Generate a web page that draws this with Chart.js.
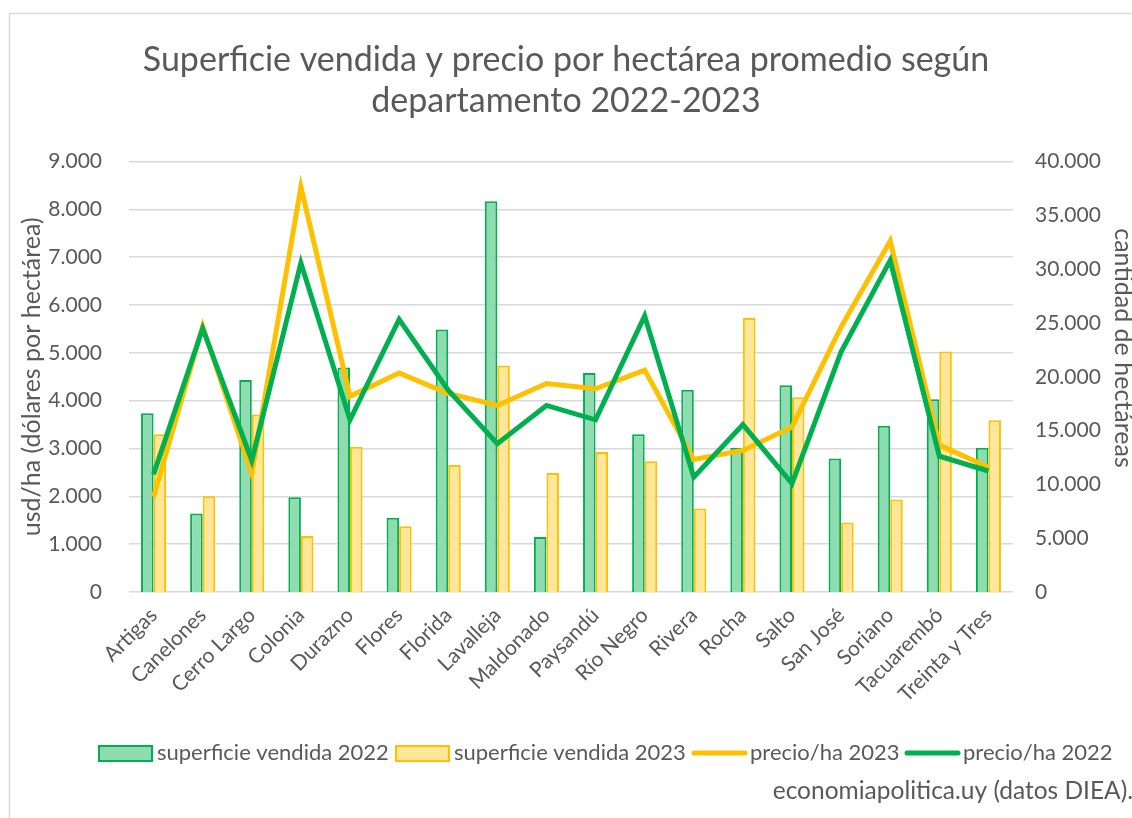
<!DOCTYPE html>
<html>
<head>
<meta charset="utf-8">
<script src="https://cdn.jsdelivr.net/npm/chart.js@4"></script>
<style>
  html, body { margin: 0; padding: 0; background: #fff; }
  #wrap { width: 1132px; height: 818px; position: relative; }
</style>
</head>
<body>
<div id="wrap"><canvas id="chart" width="1132" height="818"></canvas></div>
<script>
const categories = [
  "Artigas", "Canelones", "Cerro Largo", "Colonia", "Durazno", "Flores",
  "Florida", "Lavalleja", "Maldonado", "Paysandú", "Río Negro", "Rivera",
  "Rocha", "Salto", "San José", "Soriano", "Tacuarembó", "Treinta y Tres",
];
// hectáreas (eje derecho)
const superficie2022 = [16600, 7300, 19700, 8800, 20850, 6900, 24400, 36300, 5100, 20350, 14650, 18800, 13400, 19200, 12400, 15450, 17900, 13400];
const superficie2023 = [14650, 8900, 16500, 5200, 13500, 6100, 11800, 21050, 11050, 13000, 12150, 7750, 25450, 18100, 6450, 8600, 22350, 15950];
// usd/ha (eje izquierdo)
const precio2023 = [1990, 5550, 2475, 8470, 4090, 4580, 4150, 3900, 4360, 4250, 4640, 2770, 2960, 3450, 5540, 7340, 3070, 2610];
const precio2022 = [2460, 5510, 2750, 6880, 3600, 5700, 4220, 3100, 3900, 3600, 5770, 2400, 3500, 2265, 5020, 6935, 2840, 2530];

const titleLines = ["Superficie vendida y precio por hectárea promedio según", "departamento 2022-2023"];
const fuente = "economiapolitica.uy (datos DIEA).";

const GRAY = "#595959";
const GREEN = "#00b050";
const YELLOW = "#ffc000";
const FONT = "Lato";

const fmt = (v) => v.toLocaleString("de-DE");

// marco del gráfico
const framePlugin = {
  id: "frame",
  beforeDraw(chart) {
    const ctx = chart.ctx;
    ctx.save();
    ctx.fillStyle = "#fff";
    ctx.fillRect(0, 0, chart.width, chart.height);
    ctx.strokeStyle = "#d9d9d9";
    ctx.lineWidth = 1.5;
    ctx.beginPath();
    ctx.moveTo(9.5, chart.height);
    ctx.lineTo(9.5, 13.5);
    ctx.lineTo(chart.width, 13.5);
    ctx.stroke();
    ctx.restore();
  },
};

// leyenda y fuente
const legendStarts = [99, 396, 692, 905];
const legendPlugin = {
  id: "customLegend",
  afterDraw(chart) {
    const ctx = chart.ctx;
    const y = 753;
    ctx.save();
    ctx.font = `22px ${FONT}`;
    ctx.textBaseline = "middle";
    ctx.textAlign = "left";
    chart.data.datasets.forEach((ds, i) => {
      const x = legendStarts[i];
      if (ds.type === "line") {
        ctx.strokeStyle = ds.borderColor;
        ctx.lineWidth = 5;
        ctx.lineCap = "round";
        ctx.beginPath();
        ctx.moveTo(x + 2, y);
        ctx.lineTo(x + 53, y);
        ctx.stroke();
      } else {
        ctx.fillStyle = ds.backgroundColor;
        ctx.fillRect(x, y - 7, 53, 15);
        ctx.strokeStyle = ds.borderColor;
        ctx.lineWidth = 2;
        ctx.strokeRect(x, y - 7, 53, 15);
      }
      ctx.fillStyle = GRAY;
      ctx.fillText(ds.label, x + 58, y);
    });
    ctx.font = `24.5px ${FONT}`;
    ctx.textAlign = "right";
    ctx.fillText(fuente, 1133, 791);
    ctx.restore();
  },
};

// título del eje derecho, algo por encima del centro como en el original
const rightTitlePlugin = {
  id: "rightTitle",
  afterDraw(chart) {
    const ctx = chart.ctx;
    ctx.save();
    ctx.translate(1123, 348);
    ctx.rotate(Math.PI / 2);
    ctx.font = `25px ${FONT}`;
    ctx.fillStyle = GRAY;
    ctx.textAlign = "center";
    ctx.textBaseline = "middle";
    ctx.fillText("cantidad de hectáreas", 0, 0);
    ctx.restore();
  },
};

new Chart(document.getElementById("chart"), {
  data: {
    labels: categories,
    datasets: [
      {
        type: "bar",
        label: "superficie vendida 2022",
        data: superficie2022,
        yAxisID: "y1",
        backgroundColor: "#8fdcb0",
        borderColor: GREEN,
        borderWidth: 2,
        categoryPercentage: 0.51,
        barPercentage: 1.0,
        order: 2,
      },
      {
        type: "bar",
        label: "superficie vendida 2023",
        data: superficie2023,
        yAxisID: "y1",
        backgroundColor: "#ffe699",
        borderColor: YELLOW,
        borderWidth: 2,
        categoryPercentage: 0.51,
        barPercentage: 1.0,
        order: 2,
      },
      {
        type: "line",
        label: "precio/ha 2023",
        data: precio2023,
        yAxisID: "y",
        borderColor: YELLOW,
        backgroundColor: YELLOW,
        borderWidth: 5,
        pointRadius: 0,
        tension: 0,
        order: 1,
      },
      {
        type: "line",
        label: "precio/ha 2022",
        data: precio2022,
        yAxisID: "y",
        borderColor: GREEN,
        backgroundColor: GREEN,
        borderWidth: 5,
        pointRadius: 0,
        tension: 0,
        order: 0,
      },
    ],
  },
  options: {
    responsive: false,
    animation: false,
    layout: { padding: 0 },
    plugins: {
      legend: { display: false },
      tooltip: { enabled: false },
      title: {
        display: true,
        text: titleLines,
        color: GRAY,
        font: { family: FONT, size: 34, weight: "normal", lineHeight: 1.206 },
        padding: { top: 39.5, bottom: 40 },
      },
    },
    scales: {
      x: {
        grid: { display: false },
        border: { display: false },
        ticks: {
          color: GRAY,
          font: { family: FONT, size: 21 },
          minRotation: 45,
          maxRotation: 45,
          autoSkip: false,
        },
        afterFit(scale) { scale.height = 226; },
      },
      y: {
        position: "left",
        min: 0,
        max: 9000,
        ticks: {
          stepSize: 1000,
          color: GRAY,
          padding: 27,
          font: { family: FONT, size: 21 },
          callback: (v) => fmt(v),
        },
        grid: { color: "#d9d9d9", lineWidth: 1.5, drawTicks: false },
        border: { display: false },
        title: {
          display: true,
          text: "usd/ha (dólares por hectárea)",
          color: GRAY,
          font: { family: FONT, size: 25, lineHeight: 1.2 },
          padding: { top: 17, bottom: 0 },
        },
        afterFit(scale) { scale.width = 129; },
      },
      y1: {
        position: "right",
        min: 0,
        max: 40000,
        ticks: {
          stepSize: 5000,
          color: GRAY,
          padding: 22,
          font: { family: FONT, size: 21 },
          callback: (v) => fmt(v),
        },
        grid: { display: false, drawTicks: false },
        border: { display: false },
        afterFit(scale) { scale.width = 119; },
      },
    },
  },
  plugins: [framePlugin, legendPlugin, rightTitlePlugin],
});
</script>
</body>
</html>
